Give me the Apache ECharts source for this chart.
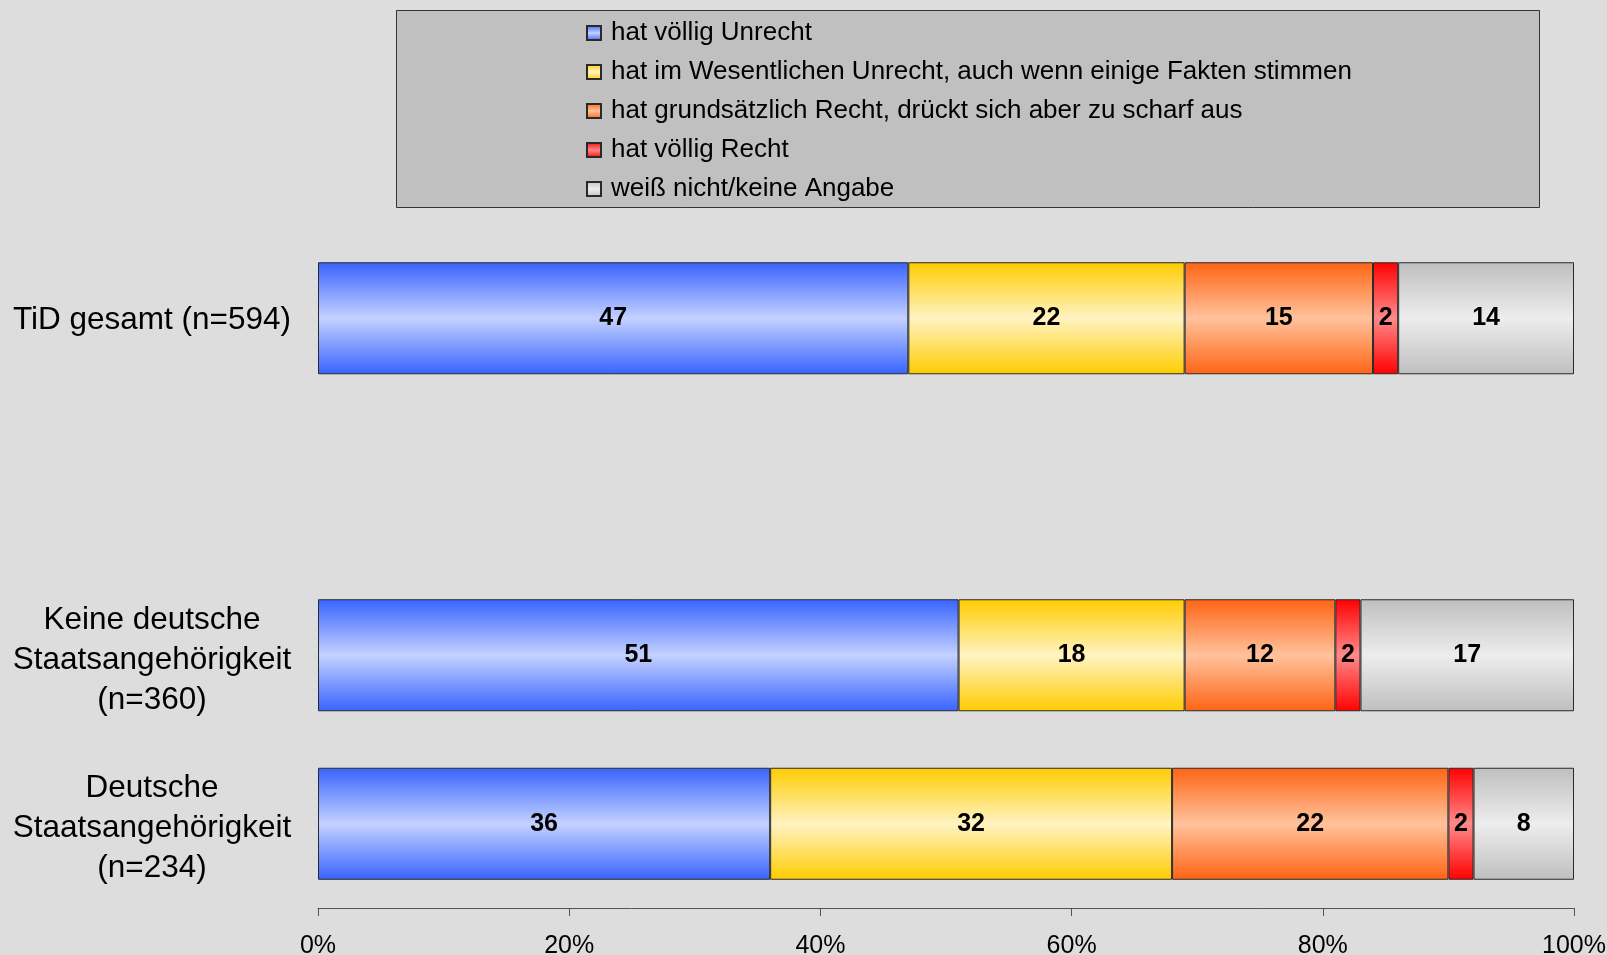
<!DOCTYPE html>
<html>
<head>
<meta charset="utf-8">
<title>TiD – Zustimmung</title>
<script src="https://cdn.jsdelivr.net/npm/echarts@6/dist/echarts.min.js"></script>
<style>
  html, body { margin: 0; padding: 0; background: #dddddd; }
  #chart { width: 1607px; height: 955px; }
</style>
</head>
<body>
<div id="chart"></div>
<script>
// Groups (the empty entry leaves the gap between total and sub-groups)
const categories = [
  'TiD gesamt (n=594)',
  '',
  'Keine deutsche\nStaatsangehörigkeit\n(n=360)',
  'Deutsche\nStaatsangehörigkeit\n(n=234)'
];

// Answer categories, in stacking order
const seriesNames = [
  'hat völlig Unrecht',
  'hat im Wesentlichen Unrecht, auch wenn einige Fakten stimmen',
  'hat grundsätzlich Recht, drückt sich aber zu scharf aus',
  'hat völlig Recht',
  'weiß nicht/keine Angabe'
];

// Percentages per group (null = spacer row)
const voelligUnrecht     = [47, null, 51, 36];
const wesentlichUnrecht  = [22, null, 18, 32];
const grundsaetzlich     = [15, null, 12, 22];
const voelligRecht       = [2,  null, 2,  2];
const weissNicht         = [14, null, 17, 8];

const xTicks = [0, 20, 40, 60, 80, 100];

const seriesValues = [voelligUnrecht, wesentlichUnrecht, grundsaetzlich, voelligRecht, weissNicht];

// Edge / centre colours of the cylindrical shading
const shades = [
  ['#3863ff', '#c4d1ff'],
  ['#ffcc00', '#fff3c2'],
  ['#ff6414', '#ffc29c'],
  ['#ff0000', '#ff8a8a'],
  ['#bfbfbf', '#ededed']
];

const FONT = '"Liberation Sans", Arial, sans-serif';

function shade(pair) {
  return new echarts.graphic.LinearGradient(0, 0, 0, 1, [
    { offset: 0, color: pair[0] },
    { offset: 0.5, color: pair[1] },
    { offset: 1, color: pair[0] }
  ]);
}

// A thin empty first line nudges each label block slightly downward
function categoryLabel(value) {
  if (!value) return '';
  const lines = value.split('\n');
  return (lines.length > 1 ? '{gapL| }' : '{gapS| }') + '\n' + value;
}

const chart = echarts.init(document.getElementById('chart'), null, { renderer: 'canvas' });

const option = {
  backgroundColor: '#dddddd',
  animation: false,
  graphic: [{
    type: 'rect',
    z: 0,
    shape: { x: 396.5, y: 10.5, width: 1143, height: 197 },
    style: { fill: '#c0c0c0', stroke: '#333333', lineWidth: 1 }
  }],
  legend: {
    orient: 'vertical',
    left: 581,
    top: 15,
    z: 5,
    icon: 'rect',
    itemWidth: 14,
    itemHeight: 14,
    itemGap: 13,
    textStyle: { fontFamily: FONT, fontSize: 26, color: '#000000', padding: [0, 0, 0, 5] },
    data: seriesNames
  },
  grid: {
    left: 318,
    right: 33,
    top: 234,
    height: 674,
    containLabel: false,
    outerBoundsMode: 'none'
  },
  xAxis: {
    type: 'value',
    min: xTicks[0],
    max: xTicks[xTicks.length - 1],
    interval: 20,
    axisLine: { show: true, lineStyle: { color: '#555555', width: 1 } },
    axisTick: { show: true, length: 8, lineStyle: { color: '#555555' } },
    splitLine: { show: false },
    axisLabel: {
      formatter: '{value}%',
      fontFamily: FONT,
      fontSize: 25,
      color: '#000000',
      margin: 26
    }
  },
  yAxis: {
    type: 'category',
    inverse: true,
    data: categories,
    axisLine: { show: false },
    axisTick: { show: false },
    axisLabel: {
      align: 'center',
      margin: 166,
      fontFamily: FONT,
      fontSize: 31.5,
      lineHeight: 40,
      color: '#000000',
      formatter: categoryLabel,
      rich: {
        gapL: { fontSize: 1, lineHeight: 10 },
        gapS: { fontSize: 1, lineHeight: 5 }
      }
    }
  },
  series: seriesNames.map((name, i) => ({
    name: name,
    type: 'bar',
    stack: 'total',
    barWidth: 112,
    data: seriesValues[i],
    itemStyle: {
      color: shade(shades[i]),
      borderColor: '#2a2a2a',
      borderWidth: 1
    },
    label: {
      show: true,
      position: 'inside',
      fontFamily: FONT,
      fontWeight: 'bold',
      fontSize: 25,
      color: '#000000'
    }
  }))
};

chart.setOption(option);
</script>
</body>
</html>
